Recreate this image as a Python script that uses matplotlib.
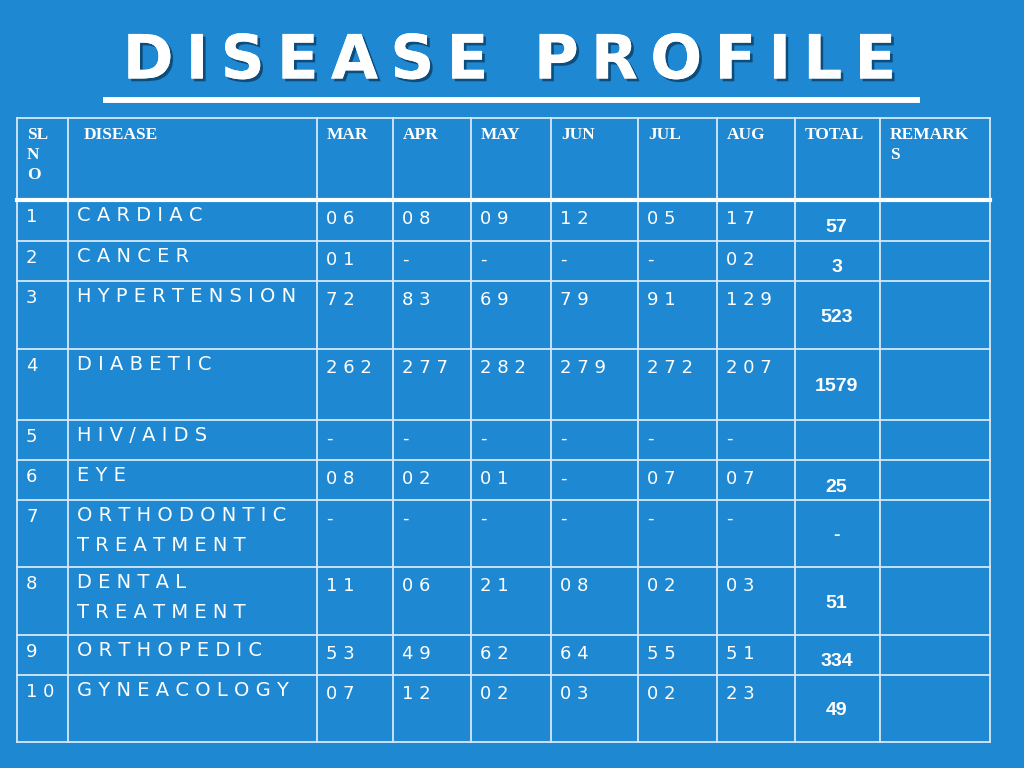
import matplotlib.pyplot as plt
import matplotlib.patheffects as pe

headers = ["SL\nN\nO", "DISEASE", "MAR", "APR", "MAY", "JUN", "JUL", "AUG", "TOTAL", "REMARK\nS"]
sl_no = ["1", "2", "3", "4", "5", "6", "7", "8", "9", "10"]
diseases = ["CARDIAC", "CANCER", "HYPERTENSION", "DIABETIC", "HIV/AIDS", "EYE",
            "ORTHODONTIC\nTREATMENT", "DENTAL\nTREATMENT", "ORTHOPEDIC", "GYNEACOLOGY"]
mar = ["06", "01", "72", "262", "-", "08", "-", "11", "53", "07"]
apr = ["08", "-", "83", "277", "-", "02", "-", "06", "49", "12"]
may = ["09", "-", "69", "282", "-", "01", "-", "21", "62", "02"]
jun = ["12", "-", "79", "279", "-", "-", "-", "08", "64", "03"]
jul = ["05", "-", "91", "272", "-", "07", "-", "02", "55", "02"]
aug = ["17", "02", "129", "207", "-", "07", "-", "03", "51", "23"]
total = ["57", "3", "523", "1579", "", "25", "-", "51", "334", "49"]

col_x = [17, 68, 317, 393, 471, 551, 638, 717, 795, 880, 990]
row_y = [118, 200, 241, 281, 349, 420, 460, 500, 567, 635, 675, 742]

bg = "#1e88d2"
line_c = "#d6e8f7"


def spaced(s, sep=" "):
    return "\n".join(sep.join(line) for line in s.split("\n"))


fig = plt.figure(figsize=(10.24, 7.68), dpi=100, facecolor=bg)
ax = fig.add_axes([0, 0, 1, 1])
ax.set_xlim(0, 1024)
ax.set_ylim(768, 0)
ax.axis("off")
ax.set_facecolor(bg)

shadow = [pe.withSimplePatchShadow(offset=(2, -2), shadow_rgbFace="#0b3f66", alpha=0.8), pe.Normal()]
ax.text(510, 62, spaced("DISEASE PROFILE", "\u2009"), color="white", fontsize=44, fontweight="bold",
        ha="center", va="center", family="DejaVu Sans", path_effects=shadow)
ax.plot([103, 920], [100, 100], color="white", lw=4, solid_capstyle="butt", path_effects=shadow)

# grid
for x in col_x:
    ax.plot([x, x], [row_y[0], row_y[-1]], color=line_c, lw=1.3)
for i, y in enumerate(row_y):
    ax.plot([col_x[0], col_x[-1]], [y, y], color="white" if i == 1 else line_c, lw=3 if i == 1 else 1.3)

# headers
for i, h in enumerate(headers):
    x = col_x[i] + (10 if i != 1 else 16)
    ax.text(x, 127, h, color="white", fontsize=12.5, fontweight="bold", family="Liberation Serif",
            ha="left", va="top", linespacing=1.35)

months = [mar, apr, may, jun, jul, aug]
for r in range(len(diseases)):
    top, bot = row_y[r + 1], row_y[r + 2]
    ax.text(26, top + 8, spaced(sl_no[r]), color="white", fontsize=13, ha="left", va="top")
    ax.text(77, top + 6, spaced(diseases[r]), color="white", fontsize=14, ha="left", va="top",
            linespacing=1.75)
    for c, m in enumerate(months):
        ax.text(col_x[c + 2] + 9, top + 10, spaced(m[r]), color="white", fontsize=13,
                ha="left", va="top")
    ty = max((top + bot) / 2 + 2, top + 27)
    ax.text((col_x[8] + col_x[9]) / 2 - 1, ty, total[r], color="white", fontsize=14,
            fontweight="bold", ha="center", va="center", family="Liberation Sans")

fig.savefig("out.png", dpi=100, facecolor=bg)
